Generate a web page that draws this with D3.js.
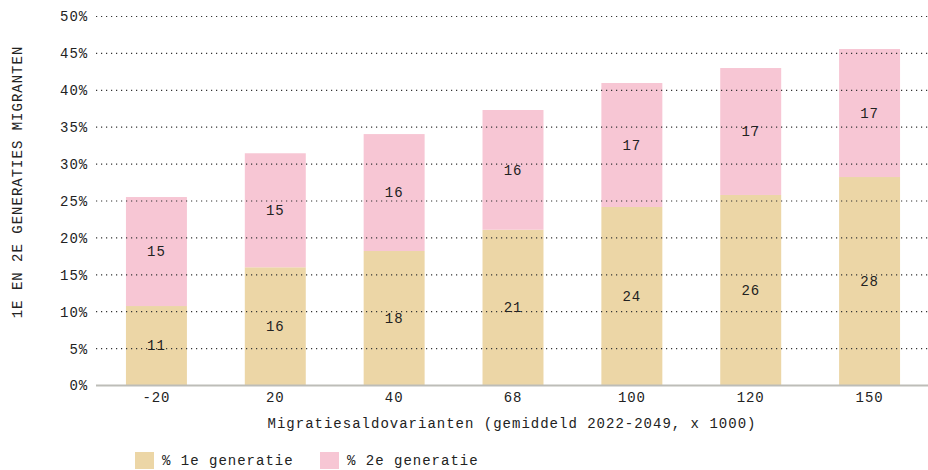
<!DOCTYPE html>
<html><head><meta charset="utf-8">
<script src="https://cdn.jsdelivr.net/npm/d3@7"></script>
<style>
body{margin:0;background:#fff;}
text{font-family:"Liberation Mono","DejaVu Sans Mono",monospace;fill:#222;}
</style></head>
<body><svg id="c" width="928" height="470"></svg>
<script>
const categories = ["-20","20","40","68","100","120","150"];
const gen1 = [10.7, 15.95, 18.16, 21.04, 24.12, 25.75, 28.18];
const gen2 = [14.77, 15.45, 15.84, 16.22, 16.8, 17.2, 17.35];
const seriesNames = ["% 1e generatie","% 2e generatie"];
const colors = ["#ECD6A6","#F7C6D4"];
const yTicks = [0,5,10,15,20,25,30,35,40,45,50];

const svg = d3.select("#c");
const x = d3.scaleBand().domain(categories).range([97,929]).paddingInner(0.487).paddingOuter(0.2435);
const y = d3.scaleLinear().domain([0,50]).range([385,16]);

const rows = categories.map((c,i)=>({cat:c, g1:gen1[i], g2:gen2[i]}));
const stack = d3.stack().keys(["g1","g2"])(rows);

stack.forEach((s,si)=>{
  svg.append("g").selectAll("rect").data(s).join("rect")
    .attr("x",d=>x(d.data.cat)).attr("width",x.bandwidth())
    .attr("y",d=>y(d[1])).attr("height",d=>y(d[0])-y(d[1]))
    .attr("fill",colors[si]);
});

// gridlines
svg.append("g").selectAll("line").data(yTicks.filter(t=>t>0)).join("line")
  .attr("x1",96).attr("x2",928).attr("y1",d=>y(d)+0.5).attr("y2",d=>y(d)+0.5)
  .attr("stroke","#333").attr("stroke-width",1.2).attr("stroke-dasharray","1.2,3.8");

// baseline
svg.append("line").attr("x1",96).attr("x2",928).attr("y1",y(0)+0.5).attr("y2",y(0)+0.5)
  .attr("stroke","#bdbdb8").attr("stroke-width",2);

// y tick labels
const yAxis = d3.axisLeft(y).tickValues(yTicks).tickFormat(d=>d+"%").tickSize(0).tickPadding(0);
const ya = svg.append("g").attr("transform","translate(88,0)").call(yAxis);
ya.select(".domain").remove();
ya.selectAll("text").style("font-family",'"Liberation Mono",monospace').style("font-size","14px").attr("letter-spacing","0.9px").attr("fill","#222").attr("dy","0.35em");

// x tick labels
const xAxis = d3.axisBottom(x).tickSize(0).tickPadding(0);
const xa = svg.append("g").attr("transform","translate(0,392)").call(xAxis);
xa.select(".domain").remove();
xa.selectAll("text").style("font-family",'"Liberation Mono",monospace').style("font-size","14px").attr("letter-spacing","0.9px").attr("fill","#222").attr("dy","0.71em");

// value labels
stack.forEach((s,si)=>{
  svg.append("g").selectAll("text").data(s).join("text")
    .attr("x",d=>x(d.data.cat)+x.bandwidth()/2)
    .attr("y",d=>y((d[0]+d[1])/2))
    .attr("dy","0.35em").attr("text-anchor","middle")
    .style("font-size","14px").attr("letter-spacing","0.9px")
    .text(d=>Math.round(d[1]-d[0]));
});

// axis titles
svg.append("text").attr("x",512).attr("y",423).attr("dy","0.35em").attr("text-anchor","middle")
  .style("font-size","14px").attr("letter-spacing","1px")
  .text("Migratiesaldovarianten (gemiddeld 2022-2049, x 1000)");
svg.append("text").attr("transform","translate(17,182) rotate(-90)").attr("dy","0.35em").attr("text-anchor","middle")
  .style("font-size","14px").attr("letter-spacing","1px")
  .text("1E EN 2E GENERATIES MIGRANTEN");

// legend
const lx = [135,320];
seriesNames.forEach((n,i)=>{
  svg.append("rect").attr("x",lx[i]).attr("y",452).attr("width",19).attr("height",17).attr("fill",colors[i]);
  svg.append("text").attr("x",lx[i]+27).attr("y",460).attr("dy","0.35em")
    .style("font-size","14px").attr("letter-spacing","1px").text(n);
});
</script></body></html>
